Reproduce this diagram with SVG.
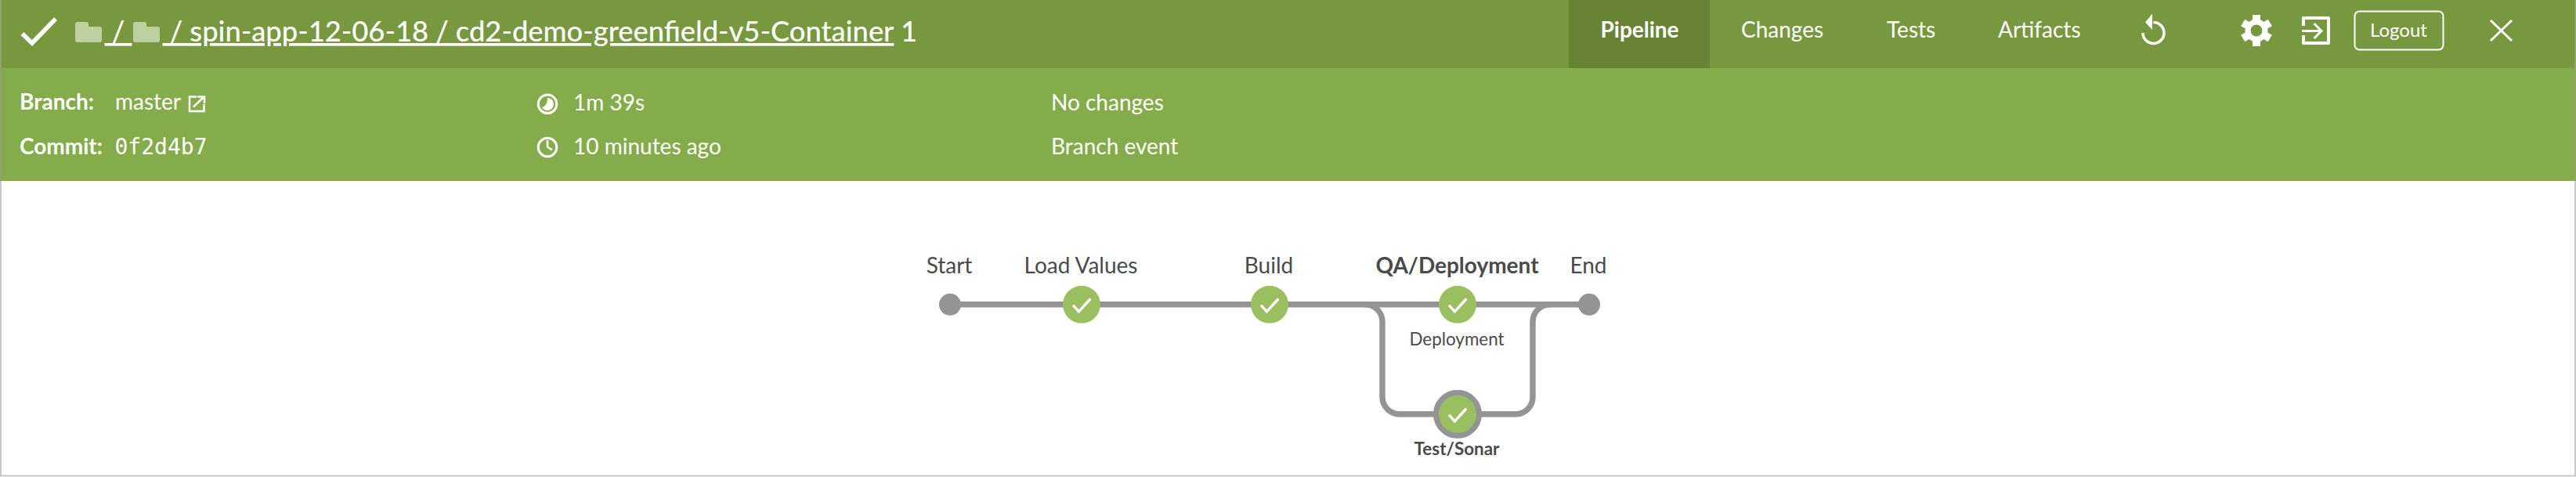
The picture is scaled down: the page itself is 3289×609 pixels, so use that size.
<svg xmlns="http://www.w3.org/2000/svg" width="3289" height="609" viewBox="0 0 3289 609">
<style>
text{font-family:Lato,"Liberation Sans",sans-serif}
.t{font-size:36.300px;fill:#fff;font-weight:500}
.u{text-decoration:underline}
.n{font-size:28px;fill:#fff}
.b{font-weight:700}
.m{font-family:"DejaVu Sans Mono","Liberation Mono",monospace;font-size:28px;fill:#fff}
.l{font-size:28px;fill:#4a4a4a;text-anchor:middle}
.s{font-size:22.400px;fill:#4a4a4a;text-anchor:middle}
.c{fill:none;stroke:#949494;stroke-width:7.400}
.ok{fill:#9abf61}
.ck{fill:none;stroke:#fff;stroke-width:3.4}
.ic{fill:none;stroke:#fff;stroke-width:3}
.f{fill:#fff}
.fo{fill:#bfd0a0}
</style>
<defs>
<path id="check" class="ck" d="M-11 .7L-3.700 9L11.300-7.300"/>
<path id="folder" class="fo" d="M0 3q0-3 3-3h11q3 0 3 3v3h14q3 0 3 3v14q0 3-3 3H3q-3 0-3-3Z"/>
</defs>
<rect width="3289" height="609" fill="#fff"/>
<rect width="3289" height="87" fill="#789840"/>
<rect y="87" width="3289" height="144" fill="#85ac4a"/>
<rect x="2003" width="180" height="87" fill="#678434"/>
<path d="M1 0V231M3288 0V231" fill="none" stroke="#8fa270" stroke-width="2"/>
<path d="M1 231V607.500H3288V231" fill="none" stroke="#c8c8c8" stroke-width="2"/>
<g id="header">
<path id="status" class="ic" style="stroke-width:5.500" d="M28.500 43L41 55L71 24"/>
<use href="#folder" x="96" y="28"/>
<use href="#folder" x="170" y="28"/>
<text class="t u" x="133.500" y="53" xml:space="preserve"> / </text>
<text class="t u" x="207.500" y="53" xml:space="preserve"> / spin-app-12-06-18 / cd2-demo-greenfield-v5-Container</text>
<text class="t" x="1150" y="53">1</text>
<text class="n b" x="2043.500" y="48">Pipeline</text>
<text class="n" x="2223" y="48">Changes</text>
<text class="n" x="2409" y="48">Tests</text>
<text class="n" x="2551" y="48">Artifacts</text>
<g id="rerun"><path class="ic" style="stroke-width:3.500" d="M2749.500 28.500A13.500 13.500 0 1 1 2736 42"/><path class="f" d="M2748 17.500V38L2739 28.500Z"/></g>
<g id="settings"><path class="ic" style="stroke-width:10" d="M2881 19V59M2863.700 29L2898.300 49M2863.700 49L2898.300 29"/><circle class="f" cx="2881" cy="39" r="14.500"/><circle cx="2881" cy="39" r="7.500" fill="#789840"/></g>
<g id="logout-icon"><path class="ic" style="stroke-width:4" stroke-linejoin="round" d="M2941 33V23H2973V55H2941V45"/><path class="ic" d="M2939 39.500H2963M2954.500 30L2964 39.500L2954.500 49"/></g>
<g id="logout"><rect class="ic" style="stroke-width:2" x="3006.500" y="14.500" width="113" height="49" rx="6"/><text class="n" style="font-size:24px" x="3026" y="47">Logout</text></g>
<path id="close" class="ic" d="M3180 26L3207 52M3207 26L3180 52"/>
</g>
<g id="details">
<text class="n b" x="25" y="140">Branch:</text>
<text class="n" x="147" y="140">master</text>
<g id="link"><path class="ic" style="stroke-width:2.500" d="M251 123.500H242V142H260.500V133M247 136.500L260 124M252 123.500H261V132"/></g>
<text class="n b" x="25" y="197">Commit:</text>
<text class="m" x="146.500" y="197">0f2d4b7</text>
<g id="duration"><circle class="ic" cx="699" cy="132.800" r="11.800"/><path class="f" d="M699 125A8 8 0 1 1 692 137Q699 135 699 125Z"/></g>
<text class="n" x="732" y="140.500">1m 39s</text>
<g id="clock"><circle class="ic" cx="699" cy="188" r="11.800"/><path class="ic" style="stroke-width:2.500" d="M699 179V187.500L705 191.500"/></g>
<text class="n" x="732" y="197">10 minutes ago</text>
<text class="n" x="1342" y="140.500">No changes</text>
<text class="n" x="1342" y="197">Branch event</text>
</g>
<g id="connectors">
<path class="c" d="M1213 388.800H2029"/>
<path class="c" d="M1743 388.800A22 22 0 0 1 1765 410.800V506.800A22 22 0 0 0 1787 528.800H1935A22 22 0 0 0 1957 506.800V410.800A22 22 0 0 1 1979 388.800"/>
</g>
<g id="start"><circle cx="1213" cy="388.800" r="14" fill="#949494"/><text class="l" x="1212" y="349">Start</text></g>
<g id="load-values"><circle class="ok" cx="1381" cy="388.800" r="24"/><use href="#check" x="1381" y="388.800"/><text class="l" x="1380" y="349">Load Values</text></g>
<g id="build"><circle class="ok" cx="1621" cy="388.800" r="24"/><use href="#check" x="1621" y="388.800"/><text class="l" x="1620" y="349">Build</text></g>
<g id="qa-deployment"><text class="l b" x="1860.500" y="349">QA/Deployment</text></g>
<g id="deployment"><circle class="ok" cx="1861" cy="388.800" r="24"/><use href="#check" x="1861" y="388.800"/><text class="s" x="1860" y="441">Deployment</text></g>
<g id="test-sonar"><circle class="ok" cx="1861" cy="528.800" r="27.500" stroke="#949494" stroke-width="7"/><use href="#check" x="1861" y="528.800"/><text class="s b" x="1860" y="581">Test/Sonar</text></g>
<g id="end"><circle cx="2029" cy="388.800" r="14" fill="#949494"/><text class="l" x="2028" y="349">End</text></g>
</svg>
